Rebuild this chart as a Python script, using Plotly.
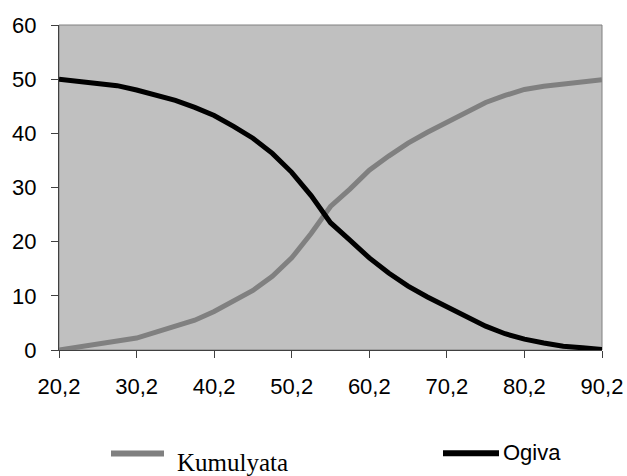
import plotly.graph_objects as go

# ---- data ----
x_vals = [20.2, 22.7, 25.2, 27.7, 30.2, 32.7, 35.2, 37.7, 40.2, 42.7, 45.2, 47.7,
          50.2, 52.7, 55.2, 57.7, 60.2, 62.7, 65.2, 67.7, 70.2, 72.7, 75.2, 77.7,
          80.2, 82.7, 85.2, 87.7, 90.2]
kumulyata = [0.0, 0.5, 1.0, 1.5, 2.2, 3.3, 4.4, 5.5, 7.1, 9.0, 11.0, 13.6,
             17.0, 21.5, 26.5, 29.7, 33.2, 35.8, 38.2, 40.2, 42.0, 43.8, 45.7, 47.0,
             48.1, 48.7, 49.1, 49.5, 49.9]
ogiva = [50.0, 49.6, 49.2, 48.8, 48.0, 47.1, 46.1, 44.8, 43.3, 41.3, 39.1, 36.3,
         32.8, 28.5, 23.5, 20.3, 17.0, 14.2, 11.8, 9.8, 8.0, 6.2, 4.4, 3.0,
         2.0, 1.3, 0.7, 0.4, 0.1]
x_ticks = [20.2, 30.2, 40.2, 50.2, 60.2, 70.2, 80.2, 90.2]
x_tick_labels = ["20,2", "30,2", "40,2", "50,2", "60,2", "70,2", "80,2", "90,2"]
y_ticks = [0, 10, 20, 30, 40, 50, 60]
series_names = ["Kumulyata", "Ogiva"]
series_colors = ["#808080", "#000000"]

# ---- layout geometry (pixels) ----
W, H = 627, 476
L, R, T, B = 59, 602, 25, 350


def px(xp):
    return (xp - L) / (R - L)


def py(yp):
    return (B - yp) / (B - T)


fig = go.Figure()
for name, ys, col in zip(series_names, [kumulyata, ogiva], series_colors):
    fig.add_trace(go.Scatter(x=x_vals, y=ys, mode="lines", name=name,
                             line=dict(color=col, width=5), showlegend=False))

axis_font = dict(family="Liberation Sans, Arial", size=22, color="#000000")

fig.update_layout(
    width=W, height=H,
    margin=dict(l=L, r=W - R, t=T, b=H - B, pad=0, autoexpand=False),
    paper_bgcolor="#FFFFFF",
    plot_bgcolor="#C0C0C0",
    xaxis=dict(range=[20.2, 90.2], tickvals=x_ticks, ticktext=x_tick_labels,
               showgrid=False, zeroline=False, showline=True, linecolor="#404040",
               linewidth=1, ticks="outside", ticklen=7, tickcolor="#404040",
               tickfont=axis_font, ticklabelstandoff=10, automargin=False),
    yaxis=dict(range=[0, 60], tickvals=y_ticks, showgrid=False, zeroline=False,
               showline=True, linecolor="#404040", linewidth=1, ticks="outside",
               ticklen=7, tickcolor="#404040", tickfont=axis_font,
               ticklabelstandoff=10, automargin=False),
)

# plot area border (top/right)
fig.add_shape(type="rect", xref="paper", yref="paper", x0=0, x1=1, y0=0, y1=1,
              line=dict(color="#808080", width=1), layer="below")

# manual legend
fig.add_shape(type="line", xref="paper", yref="paper",
              x0=px(111), x1=px(164), y0=py(453.5), y1=py(453.5),
              line=dict(color=series_colors[0], width=6))
fig.add_annotation(xref="paper", yref="paper", x=px(176), y=py(462.5),
                   xanchor="left", yanchor="middle", showarrow=False,
                   borderpad=0, text=series_names[0],
                   font=dict(family="Liberation Serif, Times New Roman", size=25,
                             color="#000000"))
fig.add_shape(type="line", xref="paper", yref="paper",
              x0=px(443), x1=px(499), y0=py(453.3), y1=py(453.3),
              line=dict(color=series_colors[1], width=6))
fig.add_annotation(xref="paper", yref="paper", x=px(502), y=py(452.5),
                   xanchor="left", yanchor="middle", showarrow=False,
                   borderpad=0, text=series_names[1],
                   font=dict(family="Liberation Sans, Arial", size=22,
                             color="#000000"))

fig.write_html("out.html",
               config={"displayModeBar": False},
               post_script="document.body.style.margin='0';"
                           "document.body.style.overflow='hidden';")
